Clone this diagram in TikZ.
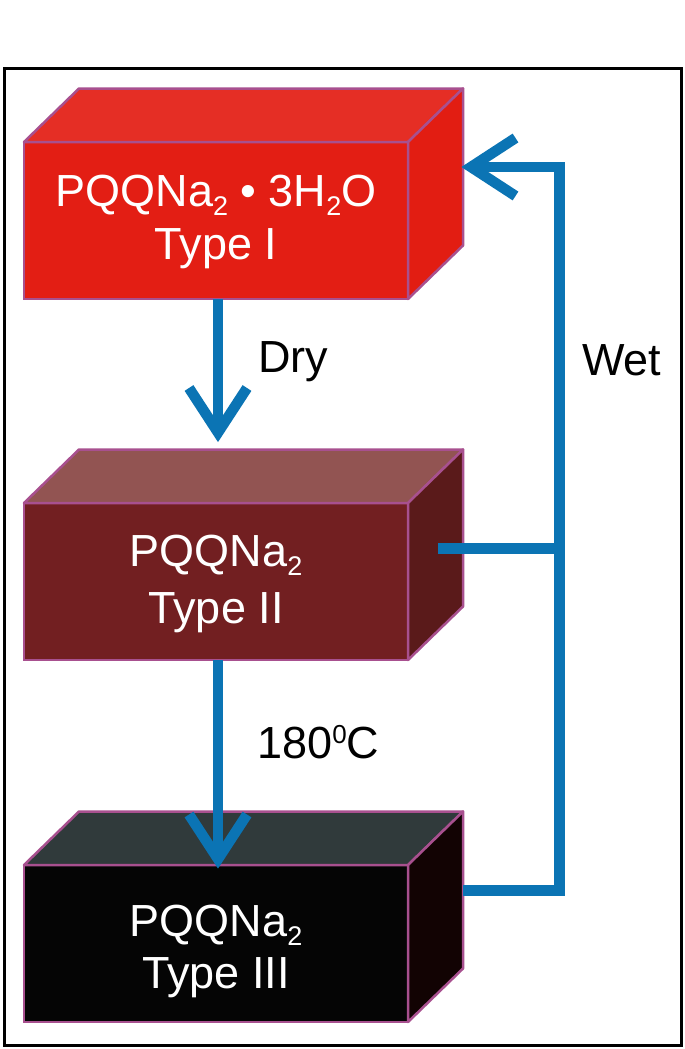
\documentclass[tikz,border=0pt]{standalone}
\usepackage{fontspec}
\setmainfont{Liberation Sans}
\usetikzlibrary{calc}
\definecolor{flowblue}{HTML}{0B74B4}
\definecolor{edgepurple}{HTML}{A8508F}
\definecolor{redfront}{HTML}{E31E14}
\definecolor{redtop}{HTML}{E52E25}
\definecolor{redside}{HTML}{E21D12}
\definecolor{brownfront}{HTML}{721F21}
\definecolor{browntop}{HTML}{925452}
\definecolor{brownside}{HTML}{5A1A1A}
\definecolor{blackfront}{HTML}{050505}
\definecolor{blacktop}{HTML}{303A3B}
\definecolor{blackside}{HTML}{120303}
\newcommand\mysub[1]{\raisebox{-9pt}{\fontsize{27}{27}\selectfont #1}}
\newcommand\mysup[1]{\raisebox{15pt}{\fontsize{26}{26}\selectfont #1}}
\newcommand\cuboidfaces[3]{%
  \filldraw[face, fill=#2] (#1.north west) -- ++(55,-53.5) -- ($(#1.north east)+(55,-53.5)$) -- (#1.north east) -- cycle;
  \filldraw[face, fill=#3] (#1.north east) -- ++(55,-53.5) -- ($(#1.south east)+(55,-53.5)$) -- (#1.south east) -- cycle;
}
\tikzset{
  frontface/.style={draw=edgepurple, line width=2.5pt, minimum width=384pt, minimum height=157pt, inner sep=0pt, outer sep=0pt},
  face/.style={draw=edgepurple, line width=2.5pt, line join=round},
  flow/.style={draw=flowblue, line width=10.5pt, line join=miter, line cap=butt},
  head/.style={draw=flowblue, line width=10.5pt, line join=miter, line cap=butt},
  boxtext/.style={text=white, font=\fontsize{45}{54}\selectfont, anchor=base, inner sep=0pt},
  lbl/.style={text=black, font=\fontsize{45}{54}\selectfont, anchor=base west, inner sep=0pt},
}
\begin{document}
\begin{tikzpicture}[x=1pt,y=-1pt]
\useasboundingbox (0,0) rectangle (685,1049);
\fill[white] (0,0) rectangle (685,1049);
\draw[line width=3pt] (4,69) rectangle (681.5,1045.5);

% boxes
\node[frontface, fill=redfront] (b1) at (216,220.5) {};
\cuboidfaces{b1}{redtop}{redside}
\node[frontface, fill=brownfront] (b2) at (216,581.5) {};
\cuboidfaces{b2}{browntop}{brownside}
\node[frontface, fill=blackfront] (b3) at (216,943.5) {};
\cuboidfaces{b3}{blacktop}{blackside}

% box texts
\node[boxtext] (t1a) at (216,206) {PQQNa\mysub{2} • 3H\mysub{2}O};
\node[boxtext] (t1b) at (216,259) {Type I};
\node[boxtext] (t2a) at (216,566) {PQQNa\mysub{2}};
\node[boxtext] (t2b) at (216,623) {Type II};
\node[boxtext] (t3a) at (216,936) {PQQNa\mysub{2}};
\node[boxtext] (t3b) at (216,988) {Type III};

% labels
\node[lbl] (dry) at (258,372) {Dry};
\node[lbl] (temp) at (257,758) {180\mysup{0}C};
\node[lbl] (wet) at (582,375) {Wet};

% Dry arrow
\coordinate (dryTip) at (218,432.5);
\draw[flow] ([xshift=2pt]b1.south) -- (dryTip);
\draw[head] ($(dryTip)+(-29,-44.5)$) -- (dryTip) -- ($(dryTip)+(29,-44.5)$);

% 180 arrow
\coordinate (tempTip) at (218,859);
\draw[flow] ([xshift=2pt]b2.south) -- (tempTip);
\draw[head] ($(tempTip)+(-29,-44.5)$) -- (tempTip) -- ($(tempTip)+(29,-44.5)$);

% Wet loop
\coordinate (w2) at (438,548.5);
\coordinate (w3) at (463,890.5);
\coordinate (wc) at (559.5,167);
\coordinate (wetTip) at (471,167);
\draw[flow] (w3) -| (wc) -- (wetTip);
\draw[flow] (w2) -- (w2 -| wc);
\draw[head] ($(wetTip)+(44.5,-29)$) -- (wetTip) -- ($(wetTip)+(44.5,29)$);
\end{tikzpicture}
\end{document}
